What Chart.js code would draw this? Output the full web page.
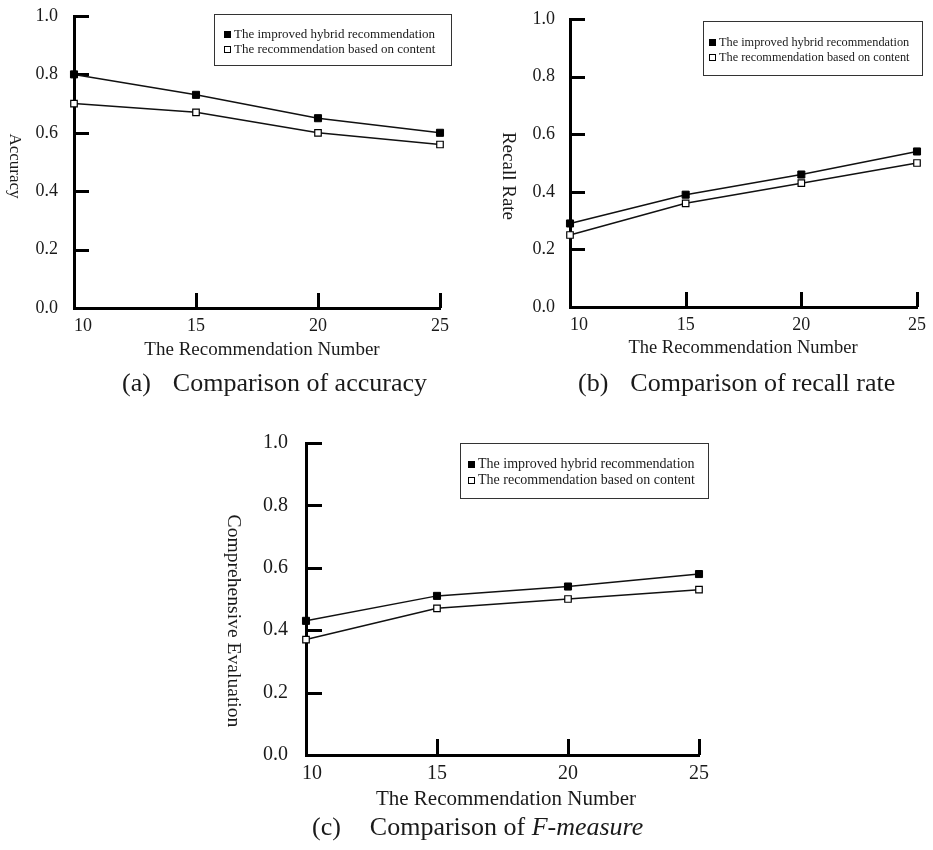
<!DOCTYPE html>
<html>
<head>
<meta charset="utf-8">
<script src="https://cdn.jsdelivr.net/npm/chart.js@4.4.1/dist/chart.umd.min.js"></script>
<style>
  body { margin: 0; background: #fff; }
  #page { position: relative; width: 933px; height: 850px; font-family: "Liberation Serif", "Times New Roman", serif; color: #1a1a1a; }
  canvas { position: absolute; }
  .ytitle { position: absolute; writing-mode: vertical-rl; transform: translate(-50%, -50%); white-space: nowrap; line-height: 1; }
  .xtitle { position: absolute; transform: translate(-50%, -50%); white-space: nowrap; line-height: 1; }
  .caption { position: absolute; white-space: nowrap; font-size: 26px; line-height: 30px; }
  .legend { position: absolute; border: 1px solid #333; box-sizing: border-box; }
  .legend .row { position: absolute; display: flex; align-items: center; white-space: nowrap; height: 14px; }
  .mk { display: inline-block; width: 7px; height: 7px; box-sizing: border-box; border: 1px solid #000; margin-right: 3px; }
</style>
</head>
<body>
<div id="page"></div>
<script>
// x categories and y ticks
const recNumbers = ['10', '15', '20', '25'];
const yTicks = [0, 0.2, 0.4, 0.6, 0.8, 1.0];
const seriesNames = ['The improved hybrid recommendation', 'The recommendation based on content'];

// (a) accuracy
const accuracyHybrid = [0.80, 0.73, 0.65, 0.60];
const accuracyContent = [0.70, 0.67, 0.60, 0.56];
// (b) recall rate
const recallHybrid = [0.29, 0.39, 0.46, 0.54];
const recallContent = [0.25, 0.36, 0.43, 0.50];
// (c) F-measure
const fHybrid = [0.43, 0.51, 0.54, 0.58];
const fContent = [0.37, 0.47, 0.50, 0.53];

const FONT = '"Liberation Serif", "Times New Roman", serif';

const panels = [
  {
    hybrid: accuracyHybrid, content: accuracyContent,
    box: { left: 0, top: 0, width: 460, height: 345 },
    area: { left: 74, top: 16, right: 440, bottom: 308 },
    tickFont: 18, xPad: 7, yPad: 16, tickLen: 15, firstShift: 9,
    yTitle: { text: 'Accuracy', x: 15, y: 166, size: 17 },
    xTitle: { x: 262, y: 348, size: 19 },
    legend: { left: 214, top: 14, width: 238, height: 52, rows: [33, 48], mx: 9, size: 13 },
    caption: { tag: '(a)', html: 'Comparison of accuracy', left: 122, y: 383, gap: 22 }
  },
  {
    hybrid: recallHybrid, content: recallContent,
    box: { left: 460, top: 0, width: 473, height: 345 },
    area: { left: 570, top: 19, right: 917, bottom: 307 },
    tickFont: 18, xPad: 7, yPad: 15, tickLen: 15, firstShift: 9,
    yTitle: { text: 'Recall Rate', x: 509, y: 176, size: 19 },
    xTitle: { x: 743, y: 347, size: 18.5 },
    legend: { left: 703, top: 21, width: 220, height: 55, rows: [41, 56], mx: 5, size: 12.3 },
    caption: { tag: '(b)', html: 'Comparison of recall rate', left: 578, y: 383, gap: 22 }
  },
  {
    hybrid: fHybrid, content: fContent,
    box: { left: 200, top: 420, width: 540, height: 380 },
    area: { left: 306, top: 443, right: 699, bottom: 755 },
    tickFont: 20, xPad: 7, yPad: 18, tickLen: 16, firstShift: 6,
    yTitle: { text: 'Comprehensive Evaluation', x: 234, y: 621, size: 19.6 },
    xTitle: { x: 506, y: 798, size: 21 },
    legend: { left: 460, top: 443, width: 249, height: 56, rows: [463, 479], mx: 7, size: 14 },
    caption: { tag: '(c)', html: 'Comparison of <i>F-measure</i>', left: 312, y: 827, gap: 29 }
  }
];

// short inward tick marks on both axes, and nudge the first x label off the y axis
const innerTicks = {
  id: 'innerTicks',
  beforeDraw(chart, args, opts) {
    const items = chart.scales.x.getLabelItems(chart.chartArea);
    if (items.length) items[0].options.translation[0] += opts.firstShift;
  },
  beforeDatasetsDraw(chart, args, opts) {
    const { ctx, chartArea } = chart;
    const xs = chart.scales.x, ys = chart.scales.y;
    ctx.save();
    ctx.strokeStyle = '#000';
    ctx.lineWidth = 3;
    ctx.beginPath();
    ys.ticks.forEach((t, i) => {
      if (i === 0) return;
      const y = Math.round(ys.getPixelForTick(i)) + 0.5;
      ctx.moveTo(chartArea.left, y);
      ctx.lineTo(chartArea.left + opts.len, y);
    });
    xs.ticks.forEach((t, i) => {
      if (i === 0) return;
      const x = Math.round(xs.getPixelForTick(i)) + 0.5;
      ctx.moveTo(x, chartArea.bottom);
      ctx.lineTo(x, chartArea.bottom - opts.len);
    });
    ctx.stroke();
    ctx.restore();
  }
};

const page = document.getElementById('page');

function addDiv(cls, css, html) {
  const d = document.createElement('div');
  d.className = cls;
  Object.assign(d.style, css);
  d.innerHTML = html;
  page.appendChild(d);
  return d;
}

panels.forEach((p) => {
  const cv = document.createElement('canvas');
  cv.width = p.box.width;
  cv.height = p.box.height;
  cv.style.left = p.box.left + 'px';
  cv.style.top = p.box.top + 'px';
  page.appendChild(cv);

  const yWidth = p.area.left - p.box.left;
  const xHeight = p.box.top + p.box.height - p.area.bottom;

  new Chart(cv.getContext('2d'), {
    type: 'line',
    data: {
      labels: recNumbers,
      datasets: [
        {
          label: seriesNames[0], data: p.hybrid,
          borderColor: '#111', borderWidth: 1.5, tension: 0,
          pointStyle: 'rect', pointRadius: 5, pointBackgroundColor: '#000',
          pointBorderColor: '#000', pointBorderWidth: 1, clip: false
        },
        {
          label: seriesNames[1], data: p.content,
          borderColor: '#111', borderWidth: 1.5, tension: 0,
          pointStyle: 'rect', pointRadius: 4.6, pointBackgroundColor: '#fff',
          pointBorderColor: '#000', pointBorderWidth: 1.2, clip: false
        }
      ]
    },
    options: {
      responsive: false,
      animation: false,
      layout: {
        padding: { left: 0, top: p.area.top - p.box.top, right: p.box.left + p.box.width - p.area.right, bottom: 0 }
      },
      plugins: {
        legend: { display: false },
        tooltip: { enabled: false },
        innerTicks: { len: p.tickLen, firstShift: p.firstShift }
      },
      scales: {
        x: {
          type: 'category',
          offset: false,
          grid: { display: false, drawTicks: false },
          border: { display: true, color: '#000', width: 3 },
          ticks: { color: '#1a1a1a', padding: p.xPad, maxRotation: 0, autoSkip: false,
            font: { family: FONT, size: p.tickFont } },
          afterFit(s) { s.height = xHeight; }
        },
        y: {
          min: 0, max: 1,
          grid: { display: false, drawTicks: false },
          border: { display: true, color: '#000', width: 3 },
          ticks: { color: '#1a1a1a', padding: p.yPad,
            font: { family: FONT, size: p.tickFont },
            callback: (v) => Number(v).toFixed(1) },
          afterBuildTicks(s) { s.ticks = yTicks.map((v) => ({ value: v })); },
          afterFit(s) { s.width = yWidth; s.paddingTop = 0; s.paddingBottom = 0; }
        }
      }
    },
    plugins: [innerTicks]
  });

  // axis titles
  addDiv('ytitle', { left: p.yTitle.x + 'px', top: p.yTitle.y + 'px', fontSize: p.yTitle.size + 'px' }, p.yTitle.text);
  addDiv('xtitle', { left: p.xTitle.x + 'px', top: p.xTitle.y + 'px', fontSize: p.xTitle.size + 'px' }, 'The Recommendation Number');

  // legend box
  const lg = p.legend;
  const box = addDiv('legend', { left: lg.left + 'px', top: lg.top + 'px', width: lg.width + 'px', height: lg.height + 'px', fontSize: lg.size + 'px' }, '');
  seriesNames.forEach((name, i) => {
    const row = document.createElement('div');
    row.className = 'row';
    row.style.left = lg.mx + 'px';
    row.style.top = (lg.rows[i] - lg.top - 7) + 'px';
    row.innerHTML = '<span class="mk" style="background:' + (i === 0 ? '#000' : '#fff') + '"></span>' + name;
    box.appendChild(row);
  });

  // caption
  const c = p.caption;
  addDiv('caption', { left: c.left + 'px', top: (c.y - 15) + 'px' },
    '<span>' + c.tag + '</span><span style="margin-left:' + c.gap + 'px">' + c.html + '</span>');
});
</script>
</body>
</html>
